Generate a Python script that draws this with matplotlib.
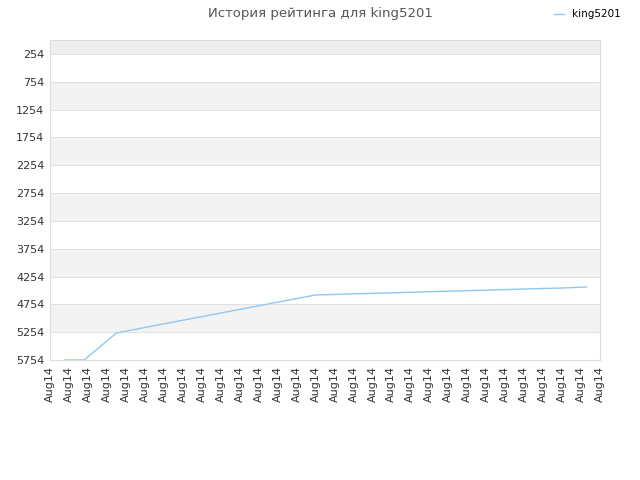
import matplotlib
matplotlib.use("Agg")
import matplotlib.pyplot as plt

labels = ["Aug14"] * 30
idx = [0.8, 1.8, 3.5, 4, 5, 6, 7, 8, 9, 10, 11, 12, 13, 14,
       15, 16, 17, 18, 19, 20, 21, 22, 23, 24, 25, 26, 27, 28.3]
rating = [5754, 5754, 5269, 5235, 5170, 5105, 5040, 4975, 4910, 4845, 4780, 4715, 4650, 4586,
          4576, 4566, 4557, 4547, 4537, 4527, 4518, 4508, 4498, 4489, 4479, 4469, 4460, 4442]
yticks = list(range(254, 5755, 500))

fig = plt.figure(figsize=(6.4, 4.8), dpi=100)
ax = fig.add_axes([50/640, 1-360/480, 550/640, 320/480])
ax.set_xlim(0, 29)
ax.set_ylim(5754, 4)
for i, lo in enumerate([4] + list(range(754, 5754, 1000))):
    hi = 254 if i == 0 else lo + 500
    ax.axhspan(lo, hi, color="#eeeeee" if i == 0 else "#f3f3f3", lw=0, zorder=0)
for y in yticks:
    ax.axhline(y, color="#dddddd", lw=0.6, zorder=1)
ax.plot(idx, rating, color="#90c8f0", lw=1, label="king5201", zorder=3)
ax.set_yticks(yticks)
ax.set_yticklabels([str(v) for v in yticks], fontsize=8, color="#333333")
ax.set_xticks(range(30))
ax.set_xticklabels(labels, rotation=90, fontsize=8, color="#333333")
ax.tick_params(length=0, pad=4)
for s in ax.spines.values():
    s.set_color("#dddddd")
fig.text(0.5, 1-13/480, "История рейтинга для king5201", ha="center", va="center", fontsize=9.5, color="#555555")
fig.legend(loc="upper right", bbox_to_anchor=(0.985, 1.0), frameon=False, fontsize=7.5, handlelength=1)
fig.savefig("out.png")
